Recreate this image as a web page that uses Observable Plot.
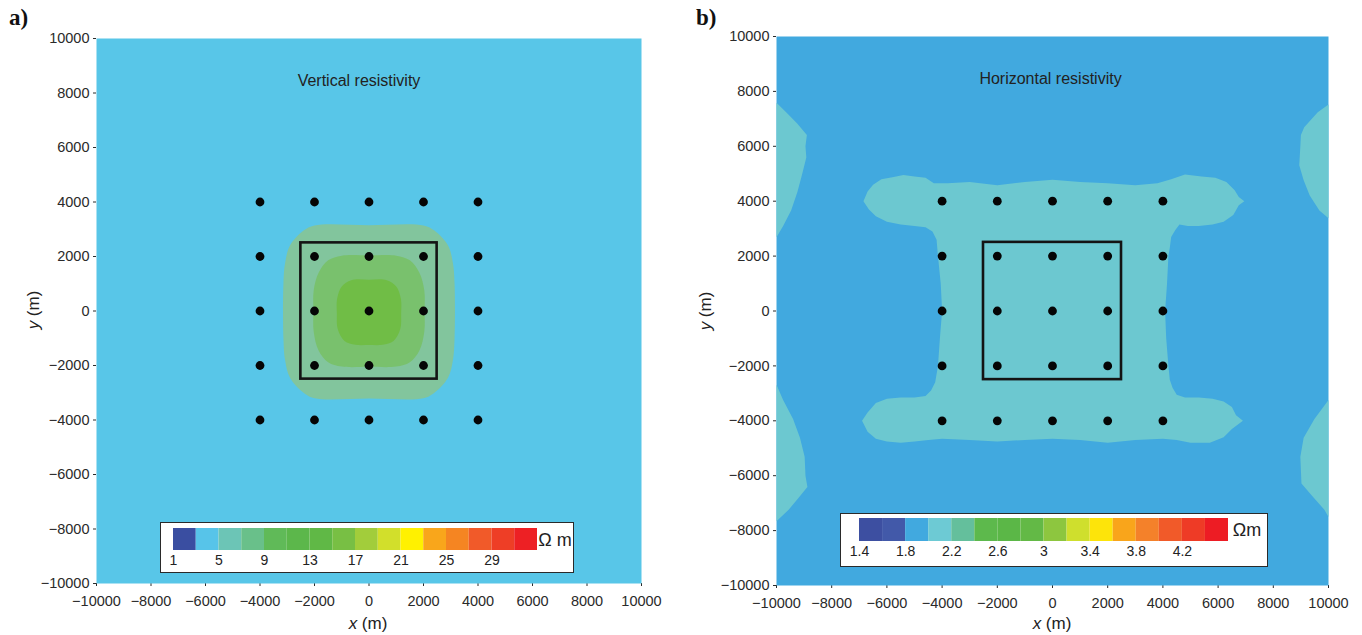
<!DOCTYPE html>
<html>
<head>
<meta charset="utf-8">
<script src="https://cdn.jsdelivr.net/npm/d3@7"></script>
<script src="https://cdn.jsdelivr.net/npm/@observablehq/plot@0.6"></script>
<style>
  html, body { margin: 0; padding: 0; background: #fff; }
  #root { position: relative; width: 1362px; height: 635px; overflow: hidden; font-family: "Liberation Sans", Arial, sans-serif; color: #222; }
  .abs { position: absolute; }
  .panel-letter { font-family: "Liberation Serif", "Times New Roman", serif; font-weight: bold; font-size: 23px; color: #111; }
  .axlabel { font-size: 17px; color: #222; white-space: nowrap; transform: translate(-50%, -50%); }
  .axlabel.rot { transform: translate(-50%, -50%) rotate(-90deg); }
  .cbox { background: #fff; border: 1.5px solid #2a2a2a; box-sizing: border-box; }
  .ohm { font-size: 18px; color: #222; transform: translate(-50%, -50%); white-space: nowrap; }
</style>
</head>
<body>
<div id="root"></div>
<script>
// ---------- axis ticks ----------
const xTicks = [-10000, -8000, -6000, -4000, -2000, 0, 2000, 4000, 6000, 8000, 10000];
const yTicks = [-10000, -8000, -6000, -4000, -2000, 0, 2000, 4000, 6000, 8000, 10000];

// ---------- receivers (dots) and target box ----------
const rxX = [-4000, -2000, 0, 2000, 4000];
const rxY = [-4000, -2000, 0, 2000, 4000];
const boxX1 = [-2500], boxX2 = [2500], boxY1 = [-2500], boxY2 = [2500];

// ---------- panel a: vertical resistivity contour regions ----------
const bgA = "#58c6e8";
const ringOuterX = [0, 2000, 2400, 2900, 3080, 3140, 3140, 3080, 2900, 2400, 2000, 0, -2000, -2400, -2900, -3080, -3140, -3140, -3080, -2900, -2400, -2000];
const ringOuterY = [3150, 3140, 2950, 2400, 1750, 1000, -1000, -1800, -2450, -3000, -3200, -3210, -3200, -3000, -2450, -1800, -1000, 1000, 1750, 2400, 2950, 3140];
const ringMidX = [0, 1000, 1500, 1850, 2030, 2040, 2030, 1850, 1500, 1000, 0, -1000, -1500, -1850, -2030, -2040, -2030, -1850, -1500, -1000];
const ringMidY = [2040, 2030, 1860, 1400, 750, 0, -750, -1450, -1880, -2040, -2050, -2040, -1880, -1450, -750, 0, 750, 1400, 1860, 2030];
const ringInX = [0, 650, 1000, 1170, 1180, 1150, 900, 500, 0, -500, -900, -1150, -1180, -1170, -1000, -650];
const ringInY = [1150, 1130, 900, 450, -100, -650, -1100, -1240, -1250, -1240, -1100, -650, -100, 450, 900, 1130];
const colOuter = "#82c59d", colMid = "#79c16d", colIn = "#70bd46";

// ---------- panel b: horizontal resistivity contour regions ----------
const bgB = "#41a9df";
const tealB = "#6cc8d0";
const hX = [-6850, -6700, -6500, -6200, -5800, -5400, -5000, -4600, -4300, -3800, -3000, -2000, -1000, 0, 1000, 2000, 3000, 3800, 4300, 4800, 5400, 5900, 6300, 6600, 6750, 6950,
            6750, 6550, 6200, 5800, 5300, 4900, 4600, 4450, 4300, 4250, 4200, 4150, 4080, 4120, 4200, 4250, 4350, 4500, 4800, 5300, 5800, 6200, 6500, 6650, 6900,
            6500, 6200, 5700, 5000, 4500, 4000, 3000, 2000, 1000, 0, -1000, -2000, -3000, -4000, -4500, -5000, -5500, -6000, -6400, -6700, -6900,
            -6700, -6400, -6000, -5500, -5000, -4600, -4400, -4250, -4150, -4080, -4000, -4050, -4150, -4200, -4350, -4600, -5000, -5500, -6000, -6400, -6650];
const hY = [4000, 4350, 4600, 4800, 4870, 4950, 4900, 4850, 4650, 4650, 4700, 4580, 4700, 4780, 4700, 4650, 4580, 4650, 4800, 4970, 4900, 4850, 4700, 4400, 4150, 4000,
            3850, 3500, 3250, 3150, 3100, 3100, 3150, 2950, 2700, 2300, 2000, 1000, 0, -1000, -2000, -2500, -2800, -3050, -3150, -3150, -3200, -3300, -3500, -3800, -4000,
            -4300, -4600, -4800, -4800, -4700, -4650, -4700, -4800, -4700, -4650, -4700, -4750, -4700, -4650, -4700, -4750, -4800, -4750, -4650, -4400, -4000,
            -3700, -3350, -3200, -3150, -3150, -3100, -2900, -2600, -2000, -1000, 0, 1000, 2000, 2600, 2900, 3050, 3100, 3150, 3250, 3450, 3700];
const edgeLUx = [-10000, -9650, -9250, -8900, -8950, -8920, -9060, -9240, -9470, -9760, -10000];
const edgeLUy = [7590, 7240, 6830, 6410, 6000, 5590, 5030, 4340, 3660, 3100, 2690];
const edgeLLx = [-10000, -9760, -9400, -9150, -8980, -8950, -8880, -9220, -9560, -10000];
const edgeLLy = [-2690, -3240, -3930, -4620, -5310, -6000, -6410, -6830, -7240, -7660];
const edgeRUx = [10000, 9610, 9120, 9000, 8980, 8940, 9100, 9320, 9670, 10000];
const edgeRUy = [7520, 7240, 6690, 6410, 6000, 5310, 4760, 4210, 3660, 3380];
const edgeRLx = [10000, 9490, 9100, 8980, 9020, 9370, 9850, 10000];
const edgeRLy = [-3240, -3930, -4620, -5310, -6280, -6690, -7240, -7500];

// ---------- colorbars ----------
const cbBoundsA = [1, 3, 5, 7, 9, 11, 13, 15, 17, 19, 21, 23, 25, 27, 29, 31, 33];
const cbColorsA = ["#3a4ea1", "#57c4e9", "#6cc5b6", "#69c08a", "#60ba58", "#5cb74b", "#60b846", "#78bf44", "#a2cd3b", "#d2df2b", "#fff100", "#f9a61b", "#f58522", "#f15a29", "#ee3e26", "#ed2024"];
const cbLabelsA = [1, 5, 9, 13, 17, 21, 25, 29];
const cbBoundsB = [1.4, 1.6, 1.8, 2.0, 2.2, 2.4, 2.6, 2.8, 3.0, 3.2, 3.4, 3.6, 3.8, 4.0, 4.2, 4.4, 4.6];
const cbColorsB = ["#3d4fa1", "#4259a9", "#41a9df", "#6dcad4", "#64bf9c", "#5db94c", "#5bb747", "#63b946", "#8dc63f", "#cfdf2d", "#fde40a", "#f9a51b", "#f4812a", "#f15a29", "#ee3b26", "#ed1c24"];
const cbLabelsB = [1.4, 1.8, 2.2, 2.6, 3, 3.4, 3.8, 4.2];

// ---------- helpers ----------
const fmt = d => d < 0 ? "\u2212" + Math.abs(d) : String(d);
const pts = (xs, ys) => xs.map((x, i) => ({x, y: ys[i]}));
const receivers = rxY.flatMap(y => rxX.map(x => ({x, y})));
const box = boxX1.map((x1, i) => ({x1, x2: boxX2[i], y1: boxY1[i], y2: boxY2[i]}));
const root = document.getElementById("root");

function place(el, left, top) {
  const d = document.createElement("div");
  d.className = "abs";
  d.style.left = left + "px";
  d.style.top = top + "px";
  d.appendChild(el);
  root.appendChild(d);
  return d;
}
function html(cls, text, left, top, extra) {
  const d = document.createElement("div");
  d.className = "abs " + cls;
  d.style.left = left + "px";
  d.style.top = top + "px";
  d.innerHTML = text;
  if (extra) Object.assign(d.style, extra);
  root.appendChild(d);
  return d;
}

function panel({width, ml, mr, mt, mb, bg, regions, title, titleDx}) {
  return Plot.plot({
    width, height: 635,
    marginLeft: ml, marginRight: mr, marginTop: mt, marginBottom: mb,
    style: {fontFamily: "'Liberation Sans', Arial, sans-serif", fontSize: "14.5px", color: "#2a2a2a", background: "transparent", overflow: "visible"},
    x: {domain: [-10000, 10000], ticks: xTicks, tickFormat: fmt, tickSize: 3, tickPadding: 9, label: null},
    y: {domain: [-10000, 10000], ticks: yTicks, tickFormat: fmt, tickSize: 3, tickPadding: 4, label: null},
    marks: [
      Plot.frame({fill: bg, stroke: "none"}),
      ...regions.map(r => Plot.line(pts(r.xs, r.ys), {x: "x", y: "y", fill: r.color, stroke: "none", curve: r.curve})),
      Plot.rect(box, {x1: "x1", x2: "x2", y1: "y1", y2: "y2", fill: "none", stroke: "#141414", strokeWidth: 2.6}),
      Plot.dot(receivers, {x: "x", y: "y", r: 4.4, fill: "#050505", stroke: "none"}),
      Plot.text([title], {frameAnchor: "top", lineAnchor: "middle", dy: 42, dx: titleDx, fontSize: 16, fill: "#222"})
    ]
  });
}

// ---------- panel a ----------
const plotA = panel({
  width: 680, ml: 96, mr: 39, mt: 38, mb: 52, bg: bgA,
  regions: [
    {xs: ringOuterX, ys: ringOuterY, color: colOuter, curve: "catmull-rom-closed"},
    {xs: ringMidX, ys: ringMidY, color: colMid, curve: "catmull-rom-closed"},
    {xs: ringInX, ys: ringInY, color: colIn, curve: "catmull-rom-closed"}
  ],
  title: "Vertical resistivity", titleDx: -10
});
place(plotA, 0, 0);

// ---------- panel b ----------
const plotB = panel({
  width: 682, ml: 96, mr: 34, mt: 36, mb: 50, bg: bgB,
  regions: [
    {xs: hX, ys: hY, color: tealB, curve: "linear-closed"},
    {xs: edgeLUx, ys: edgeLUy, color: tealB, curve: "linear-closed"},
    {xs: edgeLLx, ys: edgeLLy, color: tealB, curve: "linear-closed"},
    {xs: edgeRUx, ys: edgeRUy, color: tealB, curve: "linear-closed"},
    {xs: edgeRLx, ys: edgeRLy, color: tealB, curve: "linear-closed"}
  ],
  title: "Horizontal resistivity", titleDx: -2
});
place(plotB, 680, 0);

// ---------- colorbars ----------
function colorbar(bounds, colors, labels, cellW, cellH) {
  const cells = colors.map((c, i) => ({lo: bounds[i], hi: bounds[i + 1], color: c}));
  return Plot.plot({
    width: cellW + 20, height: cellH + 20,
    marginLeft: 10, marginRight: 10, marginTop: 0, marginBottom: 20,
    style: {fontFamily: "'Liberation Sans', Arial, sans-serif", fontSize: "14px", color: "#222", background: "transparent", overflow: "visible"},
    color: {type: "identity"},
    x: {domain: [bounds[0], bounds[bounds.length - 1]], ticks: labels, tickFormat: d => String(d), tickSize: 0, tickPadding: 5, label: null},
    marks: [Plot.barX(cells, {x1: "lo", x2: "hi", fill: "color", inset: 0})]
  });
}

// panel a legend box
html("cbox", "", 160, 522, {width: "414px", height: "51px"});
place(colorbar(cbBoundsA, cbColorsA, cbLabelsA, 364, 22), 163, 528);
html("ohm", "\u03A9 m", 555, 540);

// panel b legend box
html("cbox", "", 840, 513, {width: "428px", height: "54px"});
place(colorbar(cbBoundsB, cbColorsB, cbLabelsB, 369, 23), 849, 518);
html("ohm", "\u03A9m", 1247, 530);

// ---------- axis titles & panel letters ----------
html("axlabel", "<i>x</i> (m)", 368, 624);
html("axlabel rot", "<i>y</i> (m)", 34, 310);
html("axlabel", "<i>x</i> (m)", 1052, 624);
html("axlabel rot", "<i>y</i> (m)", 706, 311);
html("panel-letter", "a)", 9, 5);
html("panel-letter", "b)", 696, 5);
</script>
</body>
</html>
